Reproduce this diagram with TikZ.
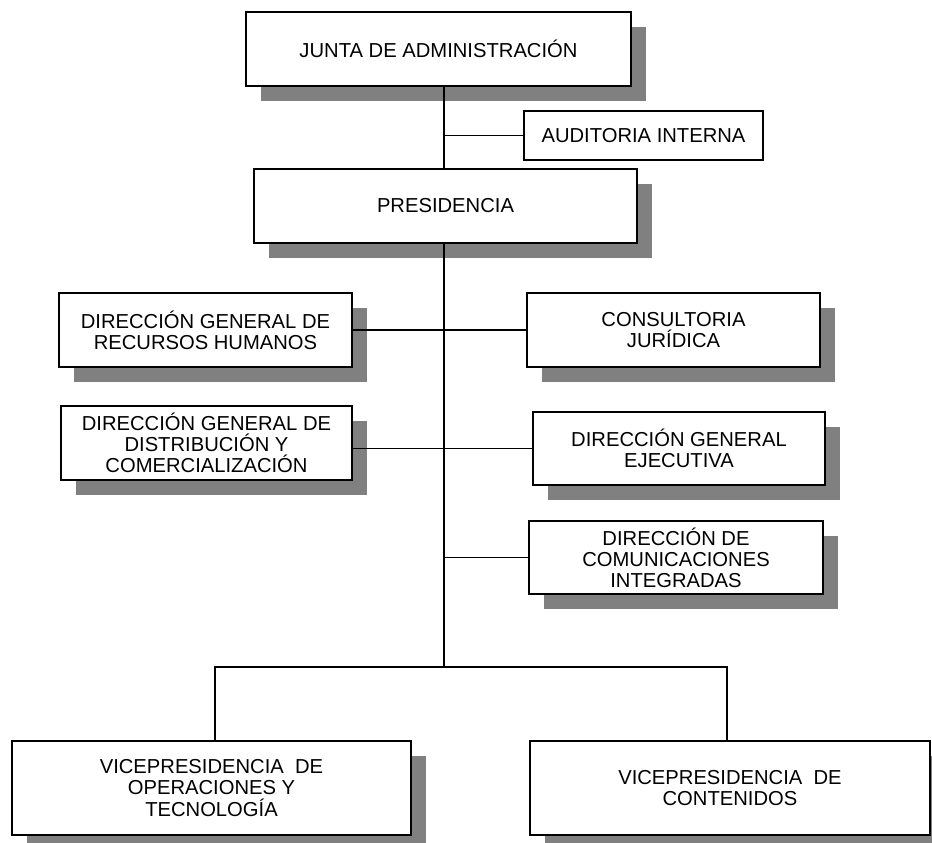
\documentclass[tikz,border=0pt]{standalone}
\usepackage{fontspec}
\setmainfont{Liberation Sans}
\usetikzlibrary{shadows}
\newcommand{\tx}{\fontsize{11.5}{12}\selectfont}

\begin{document}
\begin{tikzpicture}[x=0.02cm,y=-0.02cm,
   caja/.style={draw=black,fill=white,line width=0.7pt,align=center,inner sep=0pt,font=\tx,
     drop shadow={shadow xshift=0.3cm,shadow yshift=-0.3cm,fill=gray,opacity=1}},
   cajasola/.style={draw=black,fill=white,line width=0.7pt,align=center,inner sep=0pt,font=\tx},
   linea/.style={draw=black,line width=0.6pt}]
   \useasboundingbox (0,0) rectangle (932,842);
   % cajas
   \node[caja,minimum width=7.70cm,minimum height=1.48cm] (junta) at (438.5,49) {JUNTA DE ADMINISTRACIÓN};
   \node[cajasola,minimum width=4.78cm,minimum height=0.98cm] (audit) at (643.5,135.5) {AUDITORIA INTERNA};
   \node[caja,minimum width=7.66cm,minimum height=1.48cm] (pres) at (445.5,206) {PRESIDENCIA};
   \node[caja,minimum width=5.86cm,minimum height=1.48cm] (rrhh) at (205.5,330) {DIRECCIÓN GENERAL DE\\RECURSOS HUMANOS};
   \node[caja,minimum width=5.86cm,minimum height=1.48cm] (cons) at (673.5,330) {CONSULTORIA\\JURÍDICA};
   \node[caja,minimum width=5.82cm,minimum height=1.48cm] (dgdc) at (206.5,443) {DIRECCIÓN GENERAL DE\\DISTRIBUCIÓN Y\\COMERCIALIZACIÓN};
   \node[caja,minimum width=5.84cm,minimum height=1.46cm] (dge) at (679,448.5) {DIRECCIÓN GENERAL\\EJECUTIVA};
   \node[caja,minimum width=5.88cm,minimum height=1.46cm] (dci) at (676,557.5) {DIRECCIÓN DE\\COMUNICACIONES\\INTEGRADAS};
   \node[caja,minimum width=7.98cm,minimum height=1.88cm] (vot) at (211.5,788) {VICEPRESIDENCIA~~DE\\OPERACIONES Y\\TECNOLOGÍA};
   \node[caja,minimum width=8.00cm,minimum height=1.88cm] (vc) at (730,788) {VICEPRESIDENCIA~~DE\\CONTENIDOS};
   % lineas
   \coordinate (bus) at (444,667);
   \coordinate (busi) at (215,667);
   \coordinate (busd) at (727,667);
   \draw[linea] (junta.south -| bus) -- (pres.north -| bus);
   \draw[linea] (audit.west) -- (audit.west -| bus);
   \draw[linea] (pres.south -| bus) -- (bus);
   \draw[linea] (rrhh.east) -- (cons.west);
   \draw[linea] (dgdc.east |- dge.west) -- (dge.west);
   \draw[linea] (dci.west) -- (dci.west -| bus);
   \draw[linea] (busi |- vot.north) -- (busi) -- (busd) -- (busd |- vc.north);
\end{tikzpicture}
\end{document}
